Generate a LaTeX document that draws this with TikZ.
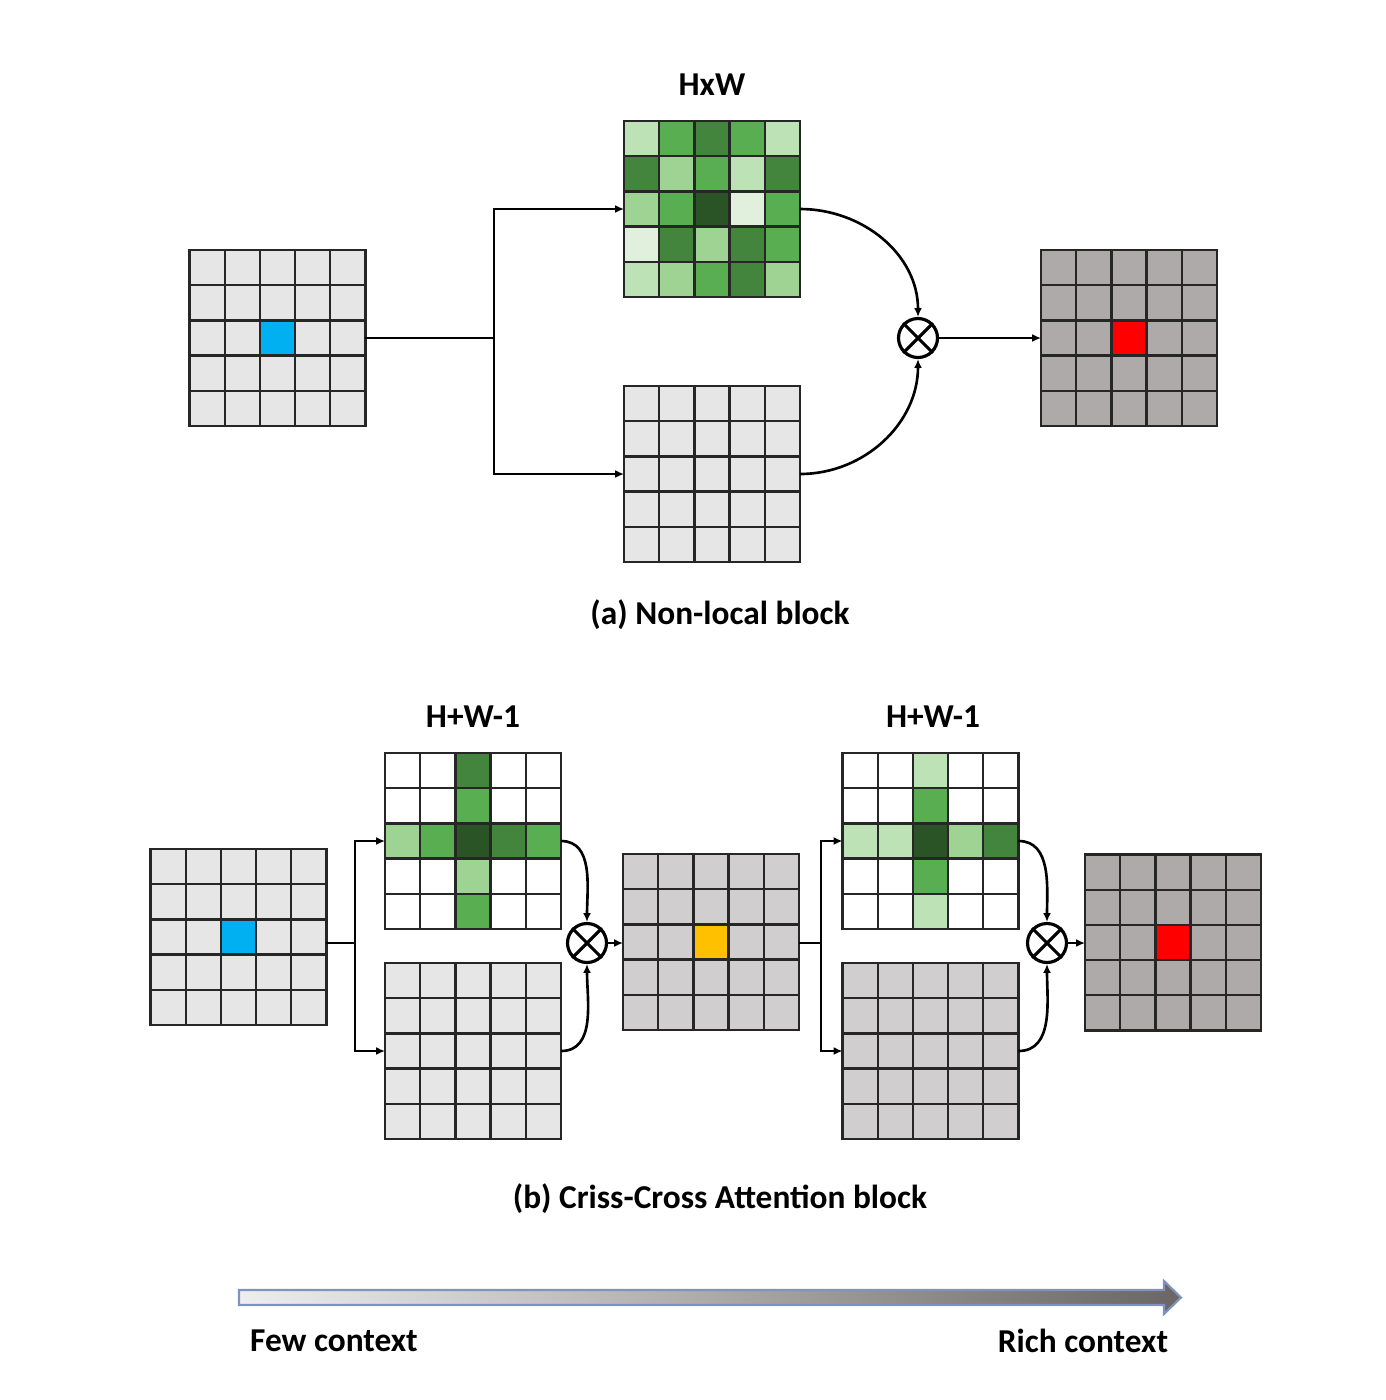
\documentclass[tikz,border=0pt]{standalone}
\usepackage{fontspec}
\setmainfont{Carlito}
\usetikzlibrary{calc,arrows.meta}

\definecolor{lightcell}{HTML}{E6E6E6}
\definecolor{midcell}{HTML}{D0CECE}
\definecolor{darkcell}{HTML}{AEAAAA}
\definecolor{querycell}{HTML}{00B0F0}
\definecolor{outcell}{HTML}{FF0000}
\definecolor{passcell}{HTML}{FFC000}
\definecolor{g1}{HTML}{E0F0DC}
\definecolor{g2}{HTML}{BDE2B5}
\definecolor{g3}{HTML}{9ED393}
\definecolor{g4}{HTML}{59AE52}
\definecolor{g5}{HTML}{43853C}
\definecolor{g6}{HTML}{2B5426}
\definecolor{arrowedge}{HTML}{7F93BF}
\definecolor{arrowleft}{HTML}{EEEEEE}
\definecolor{arrowright}{HTML}{6B6565}

\newcommand{\paintcell}[4]{\fill[#4] ($(#1.north west)+(#2*35.2,-#3*35.2)$) rectangle +(35.2,-35.2);}
\newcommand{\gridlines}[1]{%
  \foreach \k in {1,...,4} {
    \draw[cellline] ($(#1.north west)!\k/5!(#1.north east)$) -- ($(#1.south west)!\k/5!(#1.south east)$);
    \draw[cellline] ($(#1.north west)!\k/5!(#1.south west)$) -- ($(#1.north east)!\k/5!(#1.south east)$);
  }
  \draw[cellline] (#1.north west) rectangle (#1.south east);
}

\begin{document}
\begin{tikzpicture}[x=0.02cm,y=0.02cm,
    fmap/.style={minimum size=3.52cm,inner sep=0pt,outer sep=0pt},
    cellline/.style={draw=black!85,line width=1.3pt},
    link/.style={line width=1.5pt},
    conn/.style={link,-{Latex[length=5pt,width=4.5pt]}},
    mult/.style={circle,draw,line width=1.8pt,minimum size=0.78cm,inner sep=0pt},
    lbl/.style={font=\bfseries\fontsize{19}{23}\selectfont},
  ]
\useasboundingbox (0,0) rectangle (1386,-1400);

% (a) non-local block
\node[fmap,fill=lightcell] (inA) at (277.5,-338) {};
\paintcell{inA}{2}{2}{querycell}
\gridlines{inA}
\node[fmap,fill=white] (attA) at (712,-209) {};
\foreach \cx/\ry/\cc in {0/0/g2,1/0/g4,2/0/g5,3/0/g4,4/0/g2,
  0/1/g5,1/1/g3,2/1/g4,3/1/g2,4/1/g5,
  0/2/g3,1/2/g4,2/2/g6,3/2/g1,4/2/g4,
  0/3/g1,1/3/g5,2/3/g3,3/3/g5,4/3/g4,
  0/4/g2,1/4/g3,2/4/g4,3/4/g5,4/4/g3}
  {\paintcell{attA}{\cx}{\ry}{\cc}}
\gridlines{attA}
\node[fmap,fill=lightcell] (valA) at (712,-474) {};
\gridlines{valA}
\node[fmap,fill=darkcell] (outA) at (1129,-338) {};
\paintcell{outA}{2}{2}{outcell}
\gridlines{outA}
\node[mult] (mulA) at (918,-338) {};
\draw[line width=1.8pt] (mulA.north west) -- (mulA.south east) (mulA.north east) -- (mulA.south west);
\node[lbl] (dimA) at (712,-85) {HxW};
\node[lbl] (capA) at (720,-615) {(a) Non-local block};

\coordinate (splitA) at (494,-338);
\draw[link] (inA.east) -- (splitA);
\draw[conn] (splitA) |- (attA.west);
\draw[conn] (splitA) |- (valA.west);
\draw[conn] (attA.east) to[out=0,in=90] (mulA.north);
\draw[conn] (valA.east) to[out=0,in=-90] (mulA.south);
\draw[conn] (mulA.east) -- (outA.west);

% (b) criss-cross attention block
\node[fmap,fill=lightcell] (inB) at (238.5,-937) {};
\paintcell{inB}{2}{2}{querycell}
\gridlines{inB}
\node[fmap,fill=white] (attB1) at (473,-841) {};
\foreach \cx/\ry/\cc in {2/0/g5,2/1/g4,2/3/g3,2/4/g4,
  0/2/g3,1/2/g4,2/2/g6,3/2/g5,4/2/g4}
  {\paintcell{attB1}{\cx}{\ry}{\cc}}
\gridlines{attB1}
\node[fmap,fill=lightcell] (valB1) at (473,-1051) {};
\gridlines{valB1}
\node[mult] (mulB1) at (587,-943) {};
\draw[line width=1.8pt] (mulB1.north west) -- (mulB1.south east) (mulB1.north east) -- (mulB1.south west);
\node[fmap,fill=midcell] (midB) at (711,-942) {};
\paintcell{midB}{2}{2}{passcell}
\gridlines{midB}
\node[fmap,fill=white] (attB2) at (930.5,-841) {};
\foreach \cx/\ry/\cc in {2/0/g2,2/1/g4,2/3/g4,2/4/g2,
  0/2/g2,1/2/g2,2/2/g6,3/2/g3,4/2/g5}
  {\paintcell{attB2}{\cx}{\ry}{\cc}}
\gridlines{attB2}
\node[fmap,fill=midcell] (valB2) at (930.5,-1051) {};
\gridlines{valB2}
\node[mult] (mulB2) at (1047,-943) {};
\draw[line width=1.8pt] (mulB2.north west) -- (mulB2.south east) (mulB2.north east) -- (mulB2.south west);
\node[fmap,fill=darkcell] (outB) at (1173,-942.5) {};
\paintcell{outB}{2}{2}{outcell}
\gridlines{outB}
\node[lbl] (dimB1) at (473,-717) {H+W-1};
\node[lbl] (dimB2) at (933,-717) {H+W-1};
\node[lbl] (capB) at (720,-1199) {(b) Criss-Cross Attention block};

\coordinate (splitB1) at (355,-943);
\draw[link] (splitB1 -| inB.east) -- (splitB1);
\draw[conn] (splitB1) |- (attB1.west);
\draw[conn] (splitB1) |- (valB1.west);
\draw[conn] (attB1.east) to[out=0,in=90] (mulB1.north);
\draw[conn] (valB1.east) to[out=0,in=-90] (mulB1.south);
\draw[conn] (mulB1.east) -- (mulB1.east -| midB.west);
\coordinate (splitB2) at (821,-943);
\draw[link] (splitB2 -| midB.east) -- (splitB2);
\draw[conn] (splitB2) |- (attB2.west);
\draw[conn] (splitB2) |- (valB2.west);
\draw[conn] (attB2.east) to[out=0,in=90] (mulB2.north);
\draw[conn] (valB2.east) to[out=0,in=-90] (mulB2.south);
\draw[conn] (mulB2.east) -- (mulB2.east -| outB.west);

% context arrow
\shadedraw[left color=arrowleft,right color=arrowright,draw=arrowedge,line width=1.2pt,line join=miter]
  (239,-1290) -- (1164,-1290) -- (1164,-1281) -- (1181,-1297.5) -- (1164,-1314) -- (1164,-1305) -- (239,-1305) -- cycle;
\node[lbl] (few) at (334,-1341) {Few context};
\node[lbl] (rich) at (1083,-1341) {Rich context};
\end{tikzpicture}
\end{document}
